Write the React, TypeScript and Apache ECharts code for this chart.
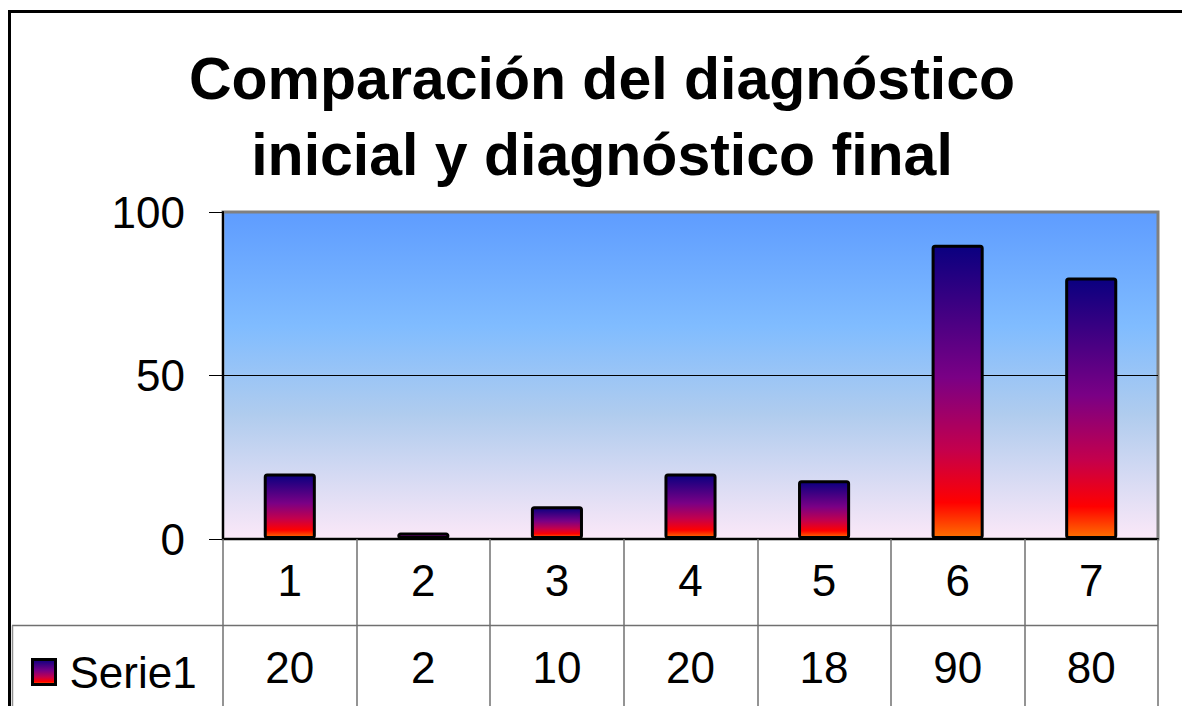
import React, { useEffect, useRef } from "react";
import * as echarts from "echarts";

const titleText = "Comparación del diagnóstico\ninicial y diagnóstico final";
const categories = ["1", "2", "3", "4", "5", "6", "7"];
const seriesName = "Serie1";
const values = [20, 2, 10, 20, 18, 90, 80];
const yMin = 0;
const yMax = 100;
const yInterval = 50;

const FONT = "'Liberation Sans', Arial, sans-serif";

export default function App() {
  const ref = useRef<HTMLDivElement>(null);
  useEffect(() => {
    document.body.style.margin = "0";
    const chart = echarts.init(ref.current!, null, { renderer: "svg" });
    const barGradient = new echarts.graphic.LinearGradient(0, 0, 0, 1, [
      { offset: 0, color: "#0a0080" },
      { offset: 0.45, color: "#7a0085" },
      { offset: 0.7, color: "#c4004c" },
      { offset: 0.88, color: "#ff0000" },
      { offset: 1, color: "#ff7000" },
    ]);
    const bgGradient = new echarts.graphic.LinearGradient(0, 0, 0, 1, [
      { offset: 0, color: "#5e9cff" },
      { offset: 0.35, color: "#80bcff" },
      { offset: 0.62, color: "#b0ccee" },
      { offset: 1, color: "#fbe8f8" },
    ]);
    chart.setOption({
      animation: false,
      backgroundColor: "#ffffff",
      title: {
        text: titleText,
        left: 597,
        top: 36,
        textAlign: "center",
        textStyle: {
          fontFamily: FONT,
          fontSize: 59,
          fontWeight: "bold",
          color: "#000",
          lineHeight: 76,
        },
      },
      legend: {
        data: [seriesName],
        left: 26,
        top: 645,
        icon: "rect",
        itemWidth: 23,
        itemHeight: 25,
        itemStyle: { borderColor: "#000", borderWidth: 3 },
        textStyle: { fontFamily: FONT, fontSize: 44, color: "#000", padding: [0, 0, 0, 9] },
      },
      grid: {
        left: 223,
        right: 24,
        top: 212,
        bottom: 167,
        show: true,
        backgroundColor: bgGradient,
        borderColor: "#808080",
        borderWidth: 3,
      },
      xAxis: [
        {
          type: "category",
          data: categories,
          position: "bottom",
          axisLine: { show: true, lineStyle: { color: "#000", width: 2 } },
          axisTick: { show: true, length: 167, alignWithLabel: false, lineStyle: { color: "#707070", width: 1.5 } },
          axisLabel: { fontFamily: FONT, fontSize: 44, color: "#000", margin: 41, verticalAlign: "middle" },
          splitLine: { show: false },
        },
        {
          type: "category",
          data: values.map(String),
          position: "bottom",
          axisLine: { show: false },
          axisTick: { show: false },
          axisLabel: { fontFamily: FONT, fontSize: 44, color: "#000", margin: 128, verticalAlign: "middle" },
          splitLine: { show: false },
        },
      ],
      yAxis: {
        type: "value",
        min: yMin,
        max: yMax,
        interval: yInterval,
        axisLine: { show: true, lineStyle: { color: "#000", width: 2 } },
        axisTick: { show: true, length: 14, lineStyle: { color: "#000", width: 1 } },
        axisLabel: { fontFamily: FONT, fontSize: 44, color: "#000", margin: 38 },
        splitLine: {
          show: true,
          lineStyle: { color: ["rgba(0,0,0,0)", "#000", "rgba(0,0,0,0)"], width: 1 },
        },
      },
      series: [
        {
          name: seriesName,
          type: "bar",
          xAxisIndex: 0,
          data: values,
          barWidth: "39%",
          itemStyle: {
            color: barGradient,
            borderColor: "#000",
            borderWidth: 3,
            borderRadius: 2,
          },
        },
      ],
      graphic: [
        {
          type: "rect",
          shape: { x: 9.5, y: 11.5, width: 1400, height: 1000 },
          style: { fill: "none", stroke: "#000", lineWidth: 3 },
          silent: true,
        },
        {
          type: "line",
          shape: { x1: 12, y1: 625.5, x2: 1158, y2: 625.5 },
          style: { stroke: "#707070", lineWidth: 1.5 },
          silent: true,
        },
        {
          type: "line",
          shape: { x1: 12.5, y1: 625.5, x2: 12.5, y2: 720 },
          style: { stroke: "#909090", lineWidth: 1.5 },
          silent: true,
        },
      ],
    });
    return () => chart.dispose();
  }, []);
  return <div ref={ref} style={{ width: 1182, height: 706, background: "#fff" }} />;
}
